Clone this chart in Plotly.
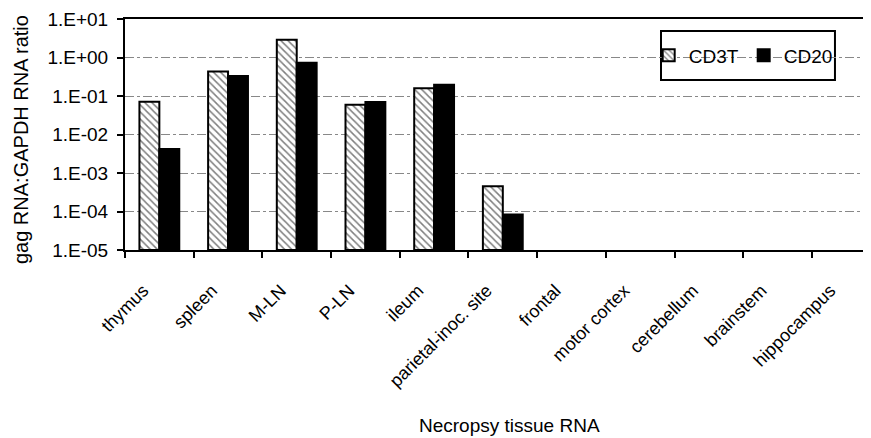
import plotly.graph_objects as go

categories = ["thymus", "spleen", "M-LN", "P-LN", "ileum", "parietal-inoc. site",
              "frontal", "motor cortex", "cerebellum", "brainstem", "hippocampus"]
cd3t = [0.071, 0.43, 2.9, 0.059, 0.158, 4.4e-4, None, None, None, None, None]
cd20 = [0.0042, 0.33, 0.73, 0.070, 0.196, 7.3e-5, None, None, None, None, None]
ytickvals = [1e-5, 1e-4, 1e-3, 1e-2, 1e-1, 1e0, 1e1]
yticktext = ["1.E-05", "1.E-04", "1.E-03", "1.E-02", "1.E-01", "1.E+00", "1.E+01"]

FONT = "Liberation Sans, Arial, sans-serif"

fig = go.Figure()
fig.add_trace(go.Bar(
    name="CD3T", x=categories, y=cd3t, base=1e-5,
    marker=dict(color="white", line=dict(color="black", width=2),
                pattern=dict(shape="\\", fgcolor="black", bgcolor="white", size=5, solidity=0.3)),
))
fig.add_trace(go.Bar(
    name="CD20", x=categories, y=cd20, base=1e-5,
    marker=dict(color="black", line=dict(color="black", width=2)),
))

fig.update_layout(
    width=863, height=430,
    margin=dict(l=117, r=0, t=11, b=188),
    paper_bgcolor="white", plot_bgcolor="white",
    barmode="group", bargap=0.42, bargroupgap=0,
    font=dict(family=FONT, size=19, color="black"),
    legend=dict(orientation="h", x=0.702, y=0.842, xanchor="left", yanchor="middle",
                borderwidth=0, bgcolor="rgba(0,0,0,0)", entrywidth=50,
                font=dict(size=19)),
    showlegend=True,
    shapes=[dict(type="rect", xref="paper", yref="paper",
                 x0=0.7185, x1=0.9517, y0=0.736, y1=0.948,
                 line=dict(color="black", width=2), fillcolor="white", layer="below")],
    annotations=[
        dict(text="Necropsy tissue RNA", xref="paper", yref="paper",
             x=0.515, y=-0.758, xanchor="center", yanchor="middle",
             showarrow=False, font=dict(size=19)),
        dict(text="gag RNA:GAPDH RNA ratio", xref="paper", yref="paper",
             x=-0.1395, y=0.48, xanchor="center", yanchor="middle", textangle=-90,
             showarrow=False, font=dict(size=20)),
    ],
)
fig.update_xaxes(
    type="category", range=[-0.5, 10.36], automargin=False,
    showline=True, linecolor="black", linewidth=2, mirror=True,
    ticks="outside", ticklen=6, tickwidth=2, tickcolor="black", tickson="boundaries",
    tickangle=-45, tickfont=dict(size=18), showgrid=False,
    ticklabelshift=-16, ticklabelstandoff=21,
)
fig.update_yaxes(
    type="log", range=[-5, 1], automargin=False,
    tickvals=ytickvals, ticktext=yticktext, tickfont=dict(size=19),
    showline=True, linecolor="black", linewidth=2,
    ticks="outside", ticklen=6, tickwidth=2, tickcolor="black",
    ticklabelstandoff=5,
    showgrid=True, gridcolor="#888888", gridwidth=1, griddash="dashdot",
)
fig.write_html("out.html")
